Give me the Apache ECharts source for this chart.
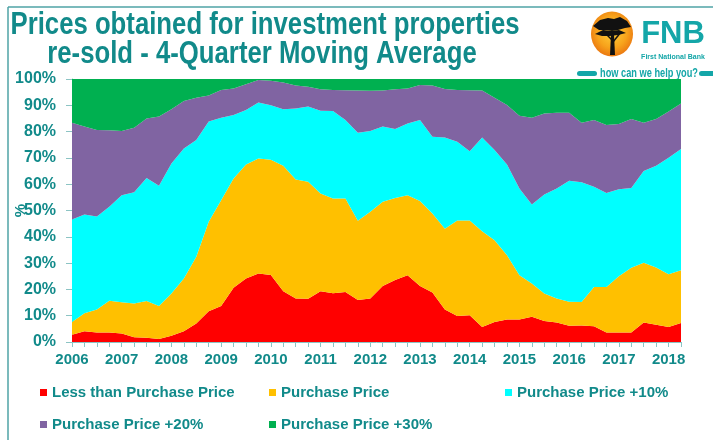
<!DOCTYPE html>
<html>
<head>
<meta charset="utf-8">
<script src="https://cdn.jsdelivr.net/npm/echarts@6/dist/echarts.min.js"></script>
<style>
  html, body { margin: 0; padding: 0; background: #fff; }
  #chart { width: 713px; height: 440px; }
</style>
</head>
<body>
<div id="chart"></div>
<script>
  // quarters 2006 Q1 .. 2018 Q2
  var years = ['2006', '2007', '2008', '2009', '2010', '2011', '2012', '2013', '2014', '2015', '2016', '2017', '2018'];
  var quarters = [];
  years.forEach(function (y) {
    ['Q1', 'Q2', 'Q3', 'Q4'].forEach(function (q) {
      if (quarters.length < 50) quarters.push(y + ' ' + q);
    });
  });

  var lessThan = [2.8, 4.1, 3.6, 3.6, 3.2, 1.8, 1.6, 1.1, 2.4, 4.1, 7.0, 11.7, 13.7, 20.6, 24.1, 26.0, 25.5, 19.3, 16.5, 16.4,
    19.3, 18.5, 19.0, 16.0, 16.5, 21.3, 23.6, 25.4, 21.3, 18.8, 12.4, 9.9, 10.2, 5.7, 7.6, 8.6, 8.6, 9.6, 8.0, 7.4,
    6.2, 6.3, 6.0, 3.6, 3.6, 3.6, 7.4, 6.6, 5.7, 7.2];
  var purchase = [4.8, 6.8, 8.8, 12.1, 11.9, 12.8, 14.0, 12.6, 16.0, 20.0, 25.4, 34.0, 40.2, 41.6, 43.4, 43.8, 43.8, 47.7, 45.3, 44.5,
    37.2, 36.1, 35.6, 30.1, 33.0, 32.0, 31.2, 30.4, 32.3, 30.1, 30.7, 36.3, 36.0, 36.4, 31.1, 24.4, 16.8, 12.6, 10.4, 9.1,
    9.1, 8.9, 14.9, 17.3, 21.4, 24.6, 22.7, 21.7, 20.1, 20.1];
  var plus10 = [39.0, 37.6, 35.3, 35.7, 40.7, 42.3, 46.8, 45.7, 49.5, 49.5, 44.4, 38.1, 31.4, 24.1, 20.7, 21.3, 20.7, 21.5, 27.0, 28.6,
    31.4, 33.2, 29.8, 33.5, 30.7, 28.6, 26.2, 27.3, 30.8, 29.1, 34.7, 29.9, 26.3, 35.7, 34.3, 34.5, 33.0, 30.1, 37.7, 41.9,
    46.0, 45.5, 38.1, 35.8, 33.1, 30.4, 34.9, 38.7, 44.3, 46.1];
  var plus20 = [36.8, 33.4, 32.9, 29.1, 24.4, 24.6, 22.6, 26.3, 20.6, 18.0, 16.1, 9.9, 10.5, 10.1, 9.8, 8.5, 9.3, 10.2, 8.7, 7.6,
    8.2, 8.0, 11.3, 16.0, 15.3, 13.7, 15.1, 13.3, 13.3, 19.5, 18.4, 19.7, 23.2, 17.8, 19.9, 22.6, 27.6, 33.0, 30.8, 28.8,
    25.9, 22.7, 25.4, 25.8, 24.8, 26.2, 18.4, 17.8, 17.5, 17.3];
  var plus30 = [16.6, 18.1, 19.4, 19.5, 19.8, 18.5, 15.0, 14.3, 11.5, 8.4, 7.1, 6.3, 4.2, 3.6, 2.0, 0.4, 0.7, 1.3, 2.5, 2.9,
    3.9, 4.2, 4.3, 4.4, 4.5, 4.4, 3.9, 3.6, 2.3, 2.5, 3.8, 4.2, 4.3, 4.4, 7.1, 9.9, 14.0, 14.7, 13.1, 12.8,
    12.8, 16.6, 15.6, 17.5, 17.1, 15.2, 16.6, 15.2, 12.4, 9.3];

  var seriesNames = ['Less than Purchase Price', 'Purchase Price', 'Purchase Price +10%', 'Purchase Price +20%', 'Purchase Price +30%'];
  var seriesColors = ['#FF0000', '#FFC000', '#00FFFF', '#8064A2', '#00B050'];
  var seriesData = [lessThan, purchase, plus10, plus20, plus30];

  var teal = '#118A8A';
  var logoTeal = '#14A6A8';
  var font = 'Liberation Sans, Arial, sans-serif';

  var chart = echarts.init(document.getElementById('chart'));

  var legendText = { color: teal, fontSize: 15, fontWeight: 'bold', fontFamily: font };
  function makeLegend(left, names) {
    return {
      orient: 'vertical',
      left: left,
      top: 380,
      itemGap: 17,
      itemWidth: 7,
      itemHeight: 7,
      icon: 'rect',
      textStyle: legendText,
      data: names
    };
  }

  var option = {
    animation: false,
    legend: [
      makeLegend(35, [seriesNames[0], seriesNames[3]]),
      makeLegend(264, [seriesNames[1], seriesNames[4]]),
      makeLegend(500, [seriesNames[2]])
    ],
    grid: { left: 72, right: 32, top: 79, bottom: 98, containLabel: false, outerBoundsMode: 'none' },
    xAxis: {
      type: 'category',
      data: quarters,
      boundaryGap: false,
      axisLine: { lineStyle: { color: '#8CC4C4' } },
      axisTick: { interval: 0, length: 5, lineStyle: { color: '#8CC4C4' } },
      axisLabel: {
        interval: 3,
        margin: 10,
        color: teal,
        fontSize: 15,
        fontWeight: 'bold',
        fontFamily: font,
        formatter: function (v) { return v.slice(0, 4); }
      },
      splitLine: { show: false }
    },
    yAxis: {
      type: 'value',
      min: 0,
      max: 100,
      interval: 10,
      name: '%',
      nameLocation: 'middle',
      nameGap: 44,
      nameRotate: 90,
      nameMoveOverlap: false,
      nameTextStyle: { color: teal, fontSize: 15, fontWeight: 'bold', fontFamily: font },
      axisLine: { show: true, lineStyle: { color: '#8CC4C4' } },
      axisTick: { show: true, length: 6, lineStyle: { color: '#8CC4C4' } },
      axisLabel: {
        margin: 16,
        color: teal,
        fontSize: 16,
        fontWeight: 'bold',
        fontFamily: font,
        formatter: '{value}%'
      },
      splitLine: { show: false }
    },
    series: seriesData.map(function (d, i) {
      return {
        name: seriesNames[i],
        type: 'line',
        stack: 'total',
        data: d,
        symbol: 'none',
        color: seriesColors[i],
        lineStyle: { width: 0 },
        areaStyle: { color: seriesColors[i], opacity: 1 }
      };
    }),
    graphic: [
      // title, drawn narrow like the slide font
      {
        type: 'text', x: 265, y: 25, scaleX: 0.83,
        style: { text: 'Prices obtained for investment properties', fill: teal, font: 'bold 31px ' + font, textAlign: 'center', textVerticalAlign: 'middle' }
      },
      {
        type: 'text', x: 262, y: 54, scaleX: 0.83,
        style: { text: 're-sold - 4-Quarter Moving Average', fill: teal, font: 'bold 31px ' + font, textAlign: 'center', textVerticalAlign: 'middle' }
      },
      // slide frame
      { type: 'line', shape: { x1: 8, y1: 7, x2: 713, y2: 7 }, style: { stroke: '#4FA3A6', lineWidth: 1.5 } },
      { type: 'line', shape: { x1: 8, y1: 7, x2: 8, y2: 440 }, style: { stroke: '#4FA3A6', lineWidth: 1.5 } },
      // FNB logo
      {
        type: 'group', x: 612, y: 34,
        children: [
          {
            type: 'circle', shape: { cx: 0, cy: 0, r: 21 }, scaleY: 1.07,
            style: {
              fill: new echarts.graphic.RadialGradient(0.5, 0.45, 0.6, [
                { offset: 0, color: '#FFD23C' },
                { offset: 0.6, color: '#F7A21B' },
                { offset: 1, color: '#E86E0E' }
              ])
            }
          },
          { type: 'polygon', shape: { points: [[-19, -8], [-12, -14], [-4, -16], [2, -15], [8, -17], [15, -13], [19, -7], [13, -6], [6, -4], [0, -3], [-6, -4], [-13, -4]] }, style: { fill: '#111' } },
          { type: 'polygon', shape: { points: [[-17, 0], [-9, -4], [-1, -3], [7, -4], [14, -1], [6, 1], [-2, 2], [-10, 2]] }, style: { fill: '#111' } },
          { type: 'polygon', shape: { points: [[-1, 0], [2, 0], [3, 21], [-2, 21]] }, style: { fill: '#111' } },
          { type: 'line', shape: { x1: 0, y1: 6, x2: -8, y2: -2 }, style: { stroke: '#111', lineWidth: 1.5 } },
          { type: 'line', shape: { x1: 1, y1: 8, x2: 9, y2: -2 }, style: { stroke: '#111', lineWidth: 1.5 } }
        ]
      },
      {
        type: 'text', x: 673, y: 34,
        style: { text: 'FNB', fill: logoTeal, font: 'bold 31px ' + font, textAlign: 'center', textVerticalAlign: 'middle' }
      },
      {
        type: 'text', x: 673, y: 57,
        style: { text: 'First National Bank', fill: logoTeal, font: 'bold 7px ' + font, textAlign: 'center', textVerticalAlign: 'middle' }
      },
      { type: 'rect', shape: { x: 577, y: 71, width: 20, height: 5, r: 2.5 }, style: { fill: logoTeal } },
      { type: 'rect', shape: { x: 699, y: 71, width: 20, height: 5, r: 2.5 }, style: { fill: logoTeal } },
      {
        type: 'text', x: 649, y: 73.5, scaleX: 0.71,
        style: { text: 'how can we help you?', fill: logoTeal, font: 'bold 13px ' + font, textAlign: 'center', textVerticalAlign: 'middle' }
      }
    ]
  };

  chart.setOption(option);
</script>
</body>
</html>
